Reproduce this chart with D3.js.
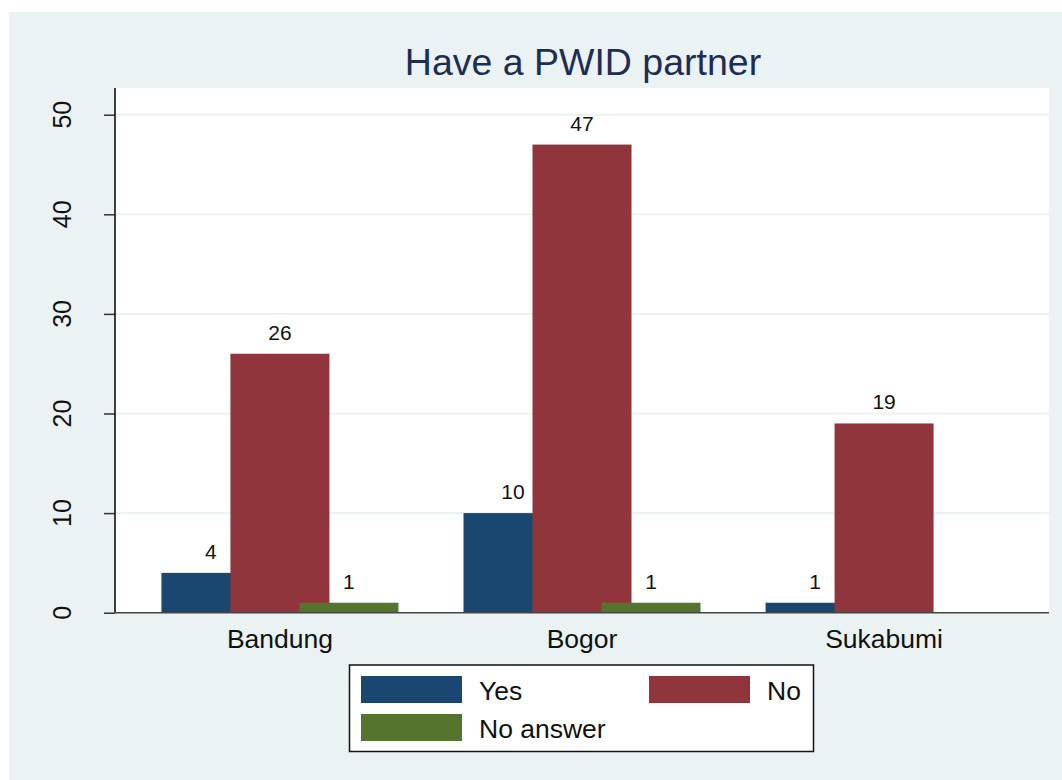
<!DOCTYPE html>
<html>
<head>
<meta charset="utf-8">
<script src="https://cdn.jsdelivr.net/npm/d3@7"></script>
<style>
  body { margin: 0; background: #fff; }
  text { font-family: "Liberation Sans", Arial, sans-serif; }
</style>
</head>
<body>
<div id="chart"></div>
<script>
// Chart data
var cities = ["Bandung", "Bogor", "Sukabumi"];
var answers = ["Yes", "No", "No answer"];
var yesCounts = [4, 10, 1];
var noCounts = [26, 47, 19];
var noAnswerCounts = [1, 1, null];
var yTicks = [0, 10, 20, 30, 40, 50];

var colors = ["#1A476F", "#90353B", "#55752F"];

var svgWidth = 1062, svgHeight = 780;

var plot = { left: 115, right: 1049, top: 88, bottom: 612.7 };

var series = [yesCounts, noCounts, noAnswerCounts];

var svg = d3.select("#chart").append("svg")
    .attr("width", svgWidth)
    .attr("height", svgHeight);

// outer light panel
svg.append("rect")
    .attr("x", 9).attr("y", 12)
    .attr("width", svgWidth - 9).attr("height", svgHeight - 12)
    .attr("fill", "#EAF2F3");

var yScale = d3.scaleLinear()
    .domain([0, 50])
    .range([plot.bottom, 114.7]);

var xScale = d3.scalePoint()
    .domain(cities)
    .range([plot.left, plot.right])
    .padding(0.546);

// offsets of each answer within a city group
var subScale = d3.scalePoint()
    .domain(answers)
    .range([-69, 69]);
var barWidth = 99;

// plot region
svg.append("rect")
    .attr("x", plot.left).attr("y", plot.top)
    .attr("width", plot.right - plot.left)
    .attr("height", plot.bottom - plot.top)
    .attr("fill", "#fff");

// gridlines
svg.append("g").selectAll("line")
    .data(yTicks.filter(d => d > 0))
    .enter().append("line")
    .attr("x1", plot.left).attr("x2", plot.right)
    .attr("y1", d => yScale(d)).attr("y2", d => yScale(d))
    .attr("stroke", "#EAF2F3")
    .attr("stroke-width", 2);

// bars, drawn series by series so later ones overlap
series.forEach(function(vals, si) {
    var rows = cities.map((c, i) => ({ city: c, value: vals[i] }))
        .filter(d => d.value !== null && d.value > 0);
    var g = svg.append("g");
    g.selectAll("rect")
        .data(rows)
        .enter().append("rect")
        .attr("x", d => xScale(d.city) + subScale(answers[si]) - barWidth / 2)
        .attr("y", d => yScale(d.value))
        .attr("width", barWidth)
        .attr("height", d => yScale(0) - yScale(d.value))
        .attr("fill", colors[si]);
});

// value labels
series.forEach(function(vals, si) {
    var rows = cities.map((c, i) => ({ city: c, value: vals[i] }))
        .filter(d => d.value !== null && d.value > 0);
    svg.append("g").selectAll("text")
        .data(rows)
        .enter().append("text")
        .attr("x", d => xScale(d.city) + subScale(answers[si]))
        .attr("y", d => yScale(d.value) - 14)
        .attr("text-anchor", "middle")
        .attr("font-size", 21)
        .attr("fill", "#111")
        .text(d => d.value);
});

// y axis
var yAxis = svg.append("g")
    .attr("transform", `translate(${plot.left},0)`)
    .call(d3.axisLeft(yScale).tickValues(yTicks).tickSize(11).tickFormat(""));
yAxis.select(".domain").remove();
yAxis.selectAll(".tick line").attr("stroke", "#333").attr("stroke-width", 1.5);
svg.append("line")
    .attr("x1", plot.left).attr("x2", plot.left)
    .attr("y1", plot.top).attr("y2", plot.bottom)
    .attr("stroke", "#000").attr("stroke-width", 1.5);

svg.append("g").selectAll("text")
    .data(yTicks)
    .enter().append("text")
    .attr("transform", d => `translate(71,${yScale(d)}) rotate(-90)`)
    .attr("text-anchor", "middle")
    .attr("font-size", 25)
    .attr("fill", "#111")
    .text(d => d);

// x axis
svg.append("line")
    .attr("x1", plot.left).attr("x2", plot.right)
    .attr("y1", plot.bottom).attr("y2", plot.bottom)
    .attr("stroke", "#444").attr("stroke-width", 1.5);

svg.append("g").selectAll("text")
    .data(cities)
    .enter().append("text")
    .attr("x", d => xScale(d))
    .attr("y", 647.7)
    .attr("text-anchor", "middle")
    .attr("font-size", 26.5)
    .attr("fill", "#111")
    .text(d => d);

// title
svg.append("text")
    .attr("x", 583)
    .attr("y", 75)
    .attr("text-anchor", "middle")
    .attr("font-size", 37.5)
    .attr("fill", "#1E2D53")
    .text("Have a PWID partner");

// legend
var legend = svg.append("g");
legend.append("rect")
    .attr("x", 349.5).attr("y", 665)
    .attr("width", 464).attr("height", 86.5)
    .attr("fill", "#fff")
    .attr("stroke", "#111").attr("stroke-width", 1.5);

var legendPos = [
    { sx: 361, ty: 676 },
    { sx: 649, ty: 676 },
    { sx: 361, ty: 714 }
];
answers.forEach(function(a, i) {
    var p = legendPos[i];
    legend.append("rect")
        .attr("x", p.sx).attr("y", p.ty)
        .attr("width", 101).attr("height", 27)
        .attr("fill", colors[i]);
    legend.append("text")
        .attr("x", p.sx + 118)
        .attr("y", p.ty + 24)
        .attr("font-size", 26.5)
        .attr("fill", "#111")
        .text(a);
});
</script>
</body>
</html>
